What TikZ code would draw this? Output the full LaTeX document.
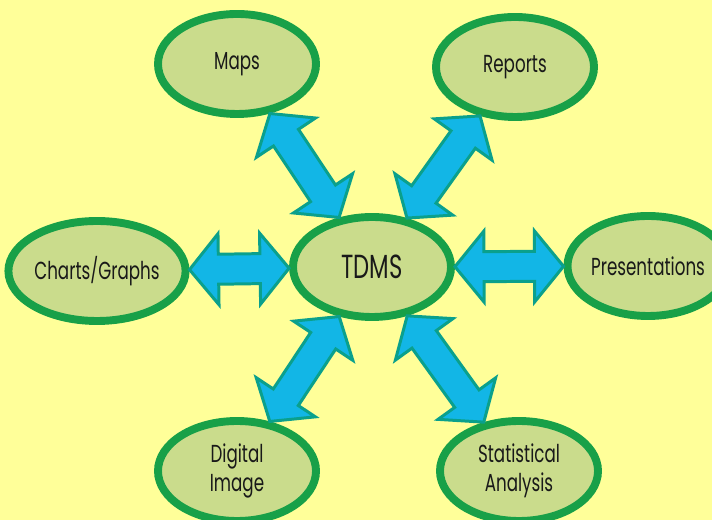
\documentclass[tikz,border=0pt]{standalone}
\usepackage{fontspec}
\newfontfamily\gothic[FakeStretch=0.68]{Poppins}
\usetikzlibrary{shapes.geometric,calc}

\begin{document}
\begin{tikzpicture}
            \definecolor{back_color}{RGB}{255,255,153}
            \definecolor{ring_color}{RGB}{24,160,72}
            \definecolor{topic_color}{RGB}{202,220,140}
            \definecolor{arrow_color}{RGB}{18,182,230}
            \definecolor{rim_color}{RGB}{10,160,140}
            \tikzstyle{topic} = [draw=ring_color, fill=topic_color, line width=4.5pt, shape=ellipse, minimum width=3.16cm, minimum height=2cm, inner sep=0pt, align=center, text=black!90, font=\gothic\fontsize{14}{16.5}\selectfont]
            \tikzstyle{fat} = [draw=rim_color, fill=arrow_color, line width=1.7pt, line join=miter]
            \clip (0,0) rectangle (14.24,10.4);
            \fill[back_color] (0,0) rectangle (14.24,10.4);
            \node[topic, font=\gothic\fontsize{19}{21}\selectfont] (tdms) at (7.44,5.06) {TDMS};
            \node[topic] (maps) at (4.74,9.12) {Maps};
            \node[topic] (reports) at (10.3,9.06) {Reports};
            \node[topic] (charts) at (1.94,4.98) {Charts/Graphs};
            \node[topic] (pres) at (12.96,5.08) {Presentations};
            \node[topic] (digital) at (4.74,0.98) {Digital\\Image};
            \node[topic] (stats) at (10.38,0.98) {Statistical\\Analysis};
            % fat double arrows from the centre to every topic
            \foreach \b in {maps, reports, charts, pres, digital, stats} {
                \path (tdms) -- coordinate[pos=0] (s) coordinate[pos=1] (e) (\b);
                \coordinate (h1) at ($(s)!0.58cm!(e)$);
                \coordinate (h2) at ($(e)!0.58cm!(s)$);
                \draw[fat] (s) -- ($(h1)!0.71cm!90:(e)$) -- ($(h1)!0.3cm!90:(e)$)
                    -- ($(h2)!0.3cm!-90:(s)$) -- ($(h2)!0.71cm!-90:(s)$) -- (e)
                    -- ($(h2)!0.71cm!90:(s)$) -- ($(h2)!0.3cm!90:(s)$)
                    -- ($(h1)!0.3cm!-90:(e)$) -- ($(h1)!0.71cm!-90:(e)$) -- cycle;
            }
        \end{tikzpicture}
\end{document}
